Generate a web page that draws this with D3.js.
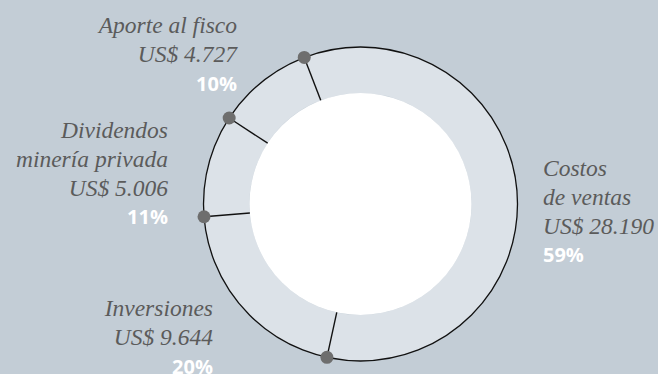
<!DOCTYPE html>
<html>
<head>
<meta charset="utf-8">
<script src="https://d3js.org/d3.v7.min.js"></script>
<style>
  body { margin: 0; background: #c3cdd6; }
  .lbl { font-family: "Liberation Serif", serif; font-style: italic; font-size: 23.5px; fill: #5b5b5b; }
  .pct { font-family: "Open Sans", sans-serif; font-weight: 700; font-size: 20px; fill: #ffffff; }
</style>
</head>
<body>
<div id="chart"></div>
<script>
  // values in US$ millions, clockwise starting near the top
  var categories = ["Costos de ventas", "Inversiones", "Dividendos minería privada", "Aporte al fisco"];
  var values = [28190, 9644, 5006, 4727];
  var valueLabels = ["US$ 28.190", "US$ 9.644", "US$ 5.006", "US$ 4.727"];
  var pctLabels = ["59%", "20%", "11%", "10%"];
  var nameLines = [["Costos", "de ventas"], ["Inversiones"], ["Dividendos", "minería privada"], ["Aporte al fisco"]];

  var width = 658, height = 374;
  var cx = 360.5, cy = 204;
  var rOuter = 157, rInner = 111;

  // where each label block sits (anchor x, first baseline y)
  var labelLayout = [
    {x: 543, y: 176, anchor: "start"},
    {x: 213, y: 316, anchor: "end"},
    {x: 168, y: 138, anchor: "end"},
    {x: 237, y: 33, anchor: "end"}
  ];
  var lineH = 28.8;

  var svg = d3.select("#chart").append("svg")
      .attr("width", width)
      .attr("height", height);

  svg.append("rect").attr("width", width).attr("height", height).attr("fill", "#c3cdd6");

  var g = svg.append("g").attr("transform", "translate(" + cx + "," + cy + ")");

  var a0 = -21 * Math.PI / 180;
  var pie = d3.pie().sort(null).startAngle(a0).endAngle(a0 + 2 * Math.PI);
  var arcs = pie(values);

  var arc = d3.arc().innerRadius(rInner).outerRadius(rOuter);

  g.selectAll("path.slice").data(arcs).enter().append("path")
      .attr("class", "slice")
      .attr("d", arc)
      .attr("fill", "#dce2e8");

  g.append("circle").attr("r", rOuter).attr("fill", "none")
      .attr("stroke", "#111").attr("stroke-width", 1.3);

  g.append("circle").attr("r", rInner).attr("fill", "#ffffff");

  // separators at the end of each slice
  function pt(a, r) { return [Math.sin(a) * r, -Math.cos(a) * r]; }

  g.selectAll("line.sep").data(arcs).enter().append("line")
      .attr("class", "sep")
      .attr("x1", function(d) { return pt(d.endAngle, rInner)[0]; })
      .attr("y1", function(d) { return pt(d.endAngle, rInner)[1]; })
      .attr("x2", function(d) { return pt(d.endAngle, rOuter)[0]; })
      .attr("y2", function(d) { return pt(d.endAngle, rOuter)[1]; })
      .attr("stroke", "#111").attr("stroke-width", 1.4);

  g.selectAll("circle.dot").data(arcs).enter().append("circle")
      .attr("class", "dot")
      .attr("cx", function(d) { return pt(d.endAngle, rOuter)[0]; })
      .attr("cy", function(d) { return pt(d.endAngle, rOuter)[1]; })
      .attr("r", 6.5)
      .attr("fill", "#6e6e6e");

  // labels
  categories.forEach(function(c, i) {
    var L = labelLayout[i];
    var lines = nameLines[i].concat([valueLabels[i]]);
    var t = svg.append("g");
    lines.forEach(function(s, j) {
      t.append("text").attr("class", "lbl")
          .attr("x", L.x).attr("y", L.y + j * lineH)
          .attr("text-anchor", L.anchor)
          .text(s);
    });
    t.append("text").attr("class", "pct")
        .attr("x", L.x).attr("y", L.y + lines.length * lineH)
        .attr("text-anchor", L.anchor)
        .text(pctLabels[i]);
  });
</script>
</body>
</html>
